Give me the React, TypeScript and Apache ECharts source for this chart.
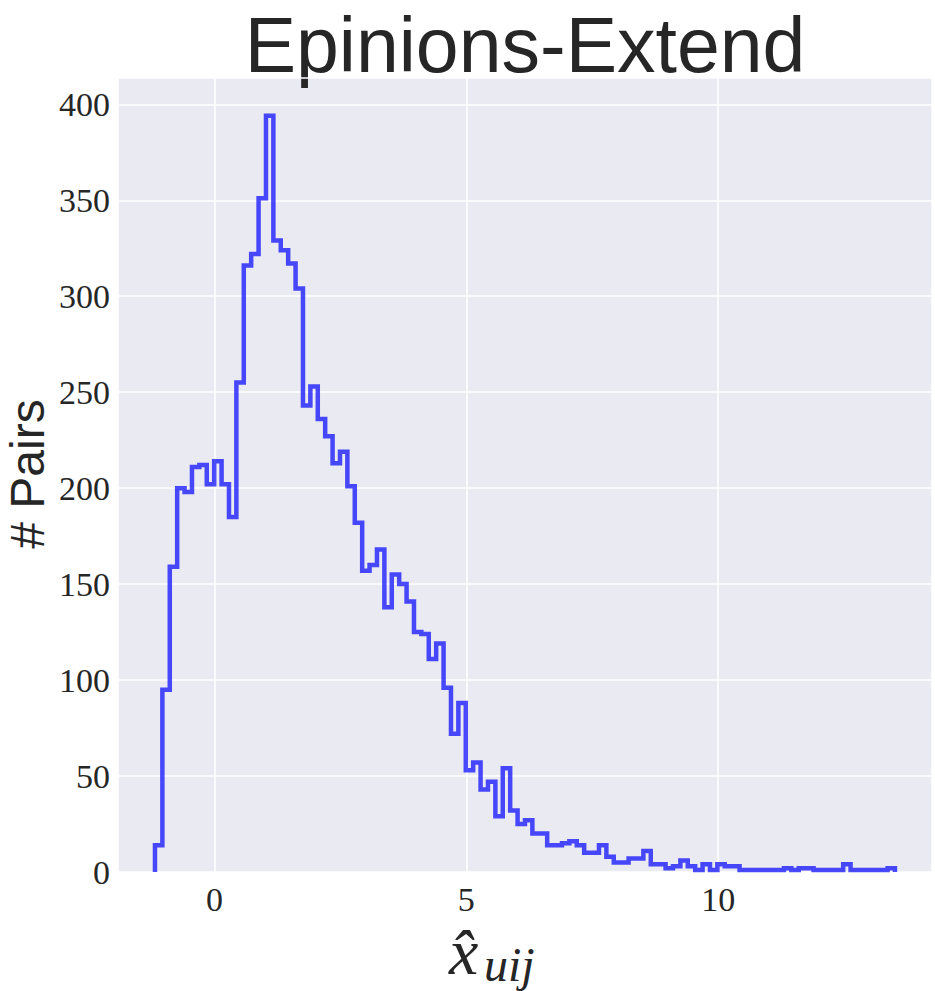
import React, { useEffect, useRef } from "react";
import * as echarts from "echarts";

const chartTitle = "Epinions-Extend";
const yAxisTitle = "# Pairs";
const xAxisMain = "x\u0302";
const xAxisSub = "uij";

// histogram: 100 equal-width bins
const binStart = -1.18;
const binWidth = 0.1469;
const counts = [
  14, 95, 159, 200, 198, 211, 212, 202, 214, 202,
  185, 255, 316, 322, 351, 394, 329, 324, 317, 304,
  243, 253, 236, 227, 213, 219, 201, 182, 157, 160,
  168, 138, 155, 150, 141, 125, 124, 111, 119, 96,
  72, 88, 53, 57, 43, 47, 29, 54, 32, 25,
  27, 20, 20, 14, 14, 15, 16, 14, 10, 10,
  14, 8, 5, 5, 7, 7, 11, 4, 4, 2,
  3, 6, 3, 1, 4, 1, 4, 3, 3, 1,
  1, 1, 1, 1, 1, 2, 1, 2, 2, 1,
  1, 1, 1, 4, 1, 1, 1, 1, 1, 2,
];

const xMin = -1.914;
const xMax = 14.245;
const yMin = 0;
const yMax = 413.7;

export default function App() {
  const ref = useRef<HTMLDivElement>(null);
  useEffect(() => {
    if (!ref.current) return;
    const chart = echarts.init(ref.current, null, { renderer: "svg" });
    const pts: number[][] = [];
    pts.push([binStart, 0]);
    counts.forEach((c, i) => {
      const a = binStart + i * binWidth;
      const b = a + binWidth;
      pts.push([a, c]);
      pts.push([b, c]);
    });
    pts.push([binStart + counts.length * binWidth, 0]);

    const tickLabel = {
      fontFamily: "Liberation Serif",
      fontSize: 34,
      color: "#262626",
    };

    chart.setOption({
      animation: false,
      backgroundColor: "#ffffff",
      grid: {
        left: 118,
        right: 3,
        top: 78,
        bottom: 119,
        show: true,
        backgroundColor: "#eaeaf2",
        borderWidth: 0,
        containLabel: false,
      },
      xAxis: {
        type: "value",
        min: xMin,
        max: xMax,
        splitNumber: 3,
        axisLine: { show: false },
        axisTick: { show: false },
        axisLabel: { ...tickLabel, margin: 10, showMinLabel: false, showMaxLabel: false },
        splitLine: { show: true, lineStyle: { color: "#ffffff", width: 1.6 } },
      },
      yAxis: {
        type: "value",
        min: yMin,
        max: yMax,
        splitNumber: 8,
        axisLine: { show: false },
        axisTick: { show: false },
        axisLabel: { ...tickLabel, margin: 8, showMinLabel: true, showMaxLabel: false },
        splitLine: { show: true, lineStyle: { color: "#ffffff", width: 1.6 } },
      },
      series: [
        {
          type: "line",
          data: pts,
          symbol: "none",
          showSymbol: false,
          clip: true,
          lineStyle: { color: "rgba(0,0,255,0.7)", width: 4.5, join: "miter" },
        },
      ],
      graphic: [
        {
          type: "text",
          x: 525,
          y: 45,
          style: {
            text: chartTitle,
            font: '77px "Liberation Sans"',
            fill: "#262626",
            textAlign: "center",
            textVerticalAlign: "middle",
          },
        },
        {
          type: "text",
          x: 27.5,
          y: 474,
          rotation: Math.PI / 2,
          style: {
            text: yAxisTitle,
            font: '48px "Liberation Sans"',
            fill: "#262626",
            textAlign: "center",
            textVerticalAlign: "middle",
          },
        },
        {
          type: "text",
          x: 449,
          y: 951,
          style: {
            text: xAxisMain,
            font: 'italic 66px "Liberation Serif"',
            fill: "#262626",
            textAlign: "left",
            textVerticalAlign: "middle",
          },
        },
        {
          type: "text",
          x: 484,
          y: 964,
          style: {
            text: xAxisSub,
            font: 'italic 48px "Liberation Serif"',
            fill: "#262626",
            textAlign: "left",
            textVerticalAlign: "middle",
          },
        },
      ],
    });
    return () => chart.dispose();
  }, []);
  return (
    <div
      ref={ref}
      style={{ position: "fixed", left: 0, top: 0, width: 935, height: 991 }}
    />
  );
}
